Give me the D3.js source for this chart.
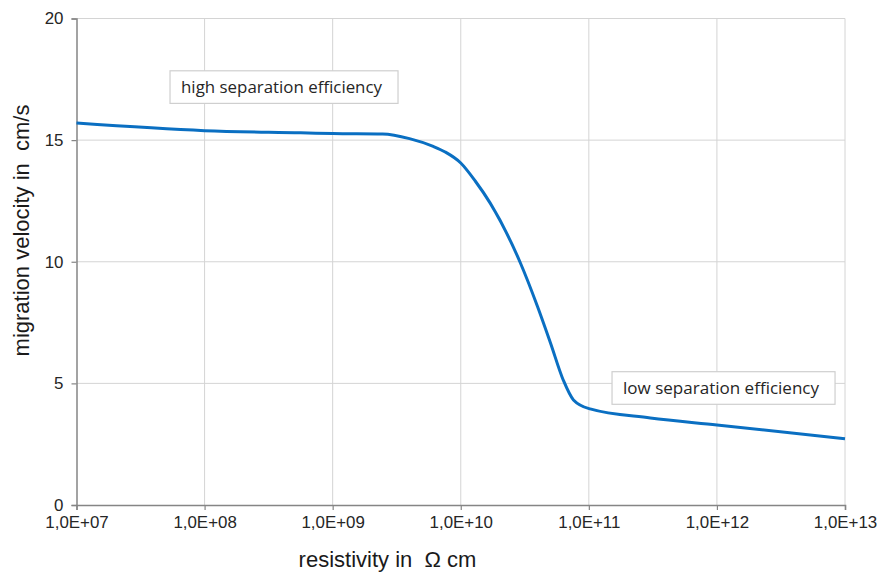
<!DOCTYPE html>
<html>
<head>
<meta charset="utf-8">
<script src="https://cdn.jsdelivr.net/npm/d3@7"></script>
<style>
  body { margin: 0; background: #fff; }
  svg text { font-family: "Liberation Sans", Arial, sans-serif; }
</style>
</head>
<body>
<div id="chart"></div>
<script>
// resistivity (log10 of Ohm cm) and migration velocity (cm/s)
var resistivityExp = [7, 8, 8.75, 9, 9.39, 9.6, 9.785, 9.879, 10.0, 10.113, 10.23, 10.465, 10.6, 10.7, 10.8, 10.88, 11.01, 11.48, 12, 13];
var velocity = [15.7, 15.39, 15.3, 15.27, 15.25, 15.06, 14.74, 14.51, 14.06, 13.32, 12.41, 9.96, 8.15, 6.67, 5.14, 4.32, 3.95, 3.58, 3.29, 2.72];

var xTicks = [1e7, 1e8, 1e9, 1e10, 1e11, 1e12, 1e13];
var xTickLabels = ["1,0E+07", "1,0E+08", "1,0E+09", "1,0E+10", "1,0E+11", "1,0E+12", "1,0E+13"];
var yTicks = [0, 5, 10, 15, 20];

var notes = [
  {text: "high separation efficiency", x: 10 ** 7.816, y: 17.18, len: 201},
  {text: "low separation efficiency", x: 10 ** 11.267, y: 4.81, len: 196}
];

var width = 877, height = 572;
var margin = {top: 18.5, right: 32, bottom: 67, left: 76.5};

var svg = d3.select("#chart").append("svg")
  .attr("width", width)
  .attr("height", height);

var x = d3.scaleLog()
  .domain([1e7, 1e13])
  .range([margin.left, width - margin.right]);

var y = d3.scaleLinear()
  .domain([0, 20])
  .range([height - margin.bottom, margin.top]);

// grid
svg.append("g")
  .selectAll("line")
  .data(xTicks.slice(1))
  .enter().append("line")
  .attr("x1", function(d) { return x(d); })
  .attr("x2", function(d) { return x(d); })
  .attr("y1", y(0))
  .attr("y2", y(20))
  .attr("stroke", "#d4d4d4")
  .attr("stroke-width", 1);

svg.append("g")
  .selectAll("line")
  .data(yTicks.slice(1))
  .enter().append("line")
  .attr("x1", x(1e7))
  .attr("x2", x(1e13))
  .attr("y1", function(d) { return y(d); })
  .attr("y2", function(d) { return y(d); })
  .attr("stroke", "#d4d4d4")
  .attr("stroke-width", 1);

// axes
var xAxis = d3.axisBottom(x)
  .tickValues(xTicks)
  .tickFormat(function(d, i) { return xTickLabels[i]; })
  .tickSize(5)
  .tickPadding(6);

var yAxis = d3.axisLeft(y)
  .tickValues(yTicks)
  .tickSize(5)
  .tickPadding(8);

var gx = svg.append("g")
  .attr("transform", "translate(0," + y(0) + ")")
  .call(xAxis);

var gy = svg.append("g")
  .attr("transform", "translate(" + x(1e7) + ",0)")
  .call(yAxis);

[gx, gy].forEach(function(g) {
  g.select(".domain").attr("stroke", "#858585").attr("stroke-width", 1.5);
  g.selectAll(".tick line").attr("stroke", "#858585").attr("stroke-width", 1.2);
  g.selectAll(".tick text")
    .attr("fill", "#262626")
    .style("font-size", "16.9px")
    .style("font-family", "'Liberation Sans', Arial, sans-serif");
});

// curve
var points = resistivityExp.map(function(e, i) { return [10 ** e, velocity[i]]; });

var line = d3.line()
  .x(function(d) { return x(d[0]); })
  .y(function(d) { return y(d[1]); })
  .curve(d3.curveMonotoneX);

svg.append("path")
  .datum(points)
  .attr("d", line)
  .attr("fill", "none")
  .attr("stroke", "#0a6fc2")
  .attr("stroke-width", 3);

// annotation boxes
notes.forEach(function(n) {
  var g = svg.append("g");
  var bx = x(n.x), by = y(n.y);
  g.append("rect")
    .attr("x", bx - 11)
    .attr("y", by - 16.3)
    .attr("width", n.len + 27)
    .attr("height", 32.6)
    .attr("fill", "#fff")
    .attr("stroke", "#cfcfcf")
    .attr("stroke-width", 1.2);
  g.append("text")
    .attr("x", bx)
    .attr("y", by)
    .attr("dominant-baseline", "central")
    .attr("fill", "#262626")
    .attr("textLength", n.len)
    .attr("lengthAdjust", "spacingAndGlyphs")
    .style("font-family", "'Open Sans', 'Noto Sans', sans-serif")
    .style("font-size", "16px")
    .text(n.text);
});

// axis titles
svg.append("text")
  .attr("x", 387.5)
  .attr("y", 567)
  .attr("text-anchor", "middle")
  .attr("fill", "#1a1a1a")
  .style("font-size", "22px")
  .style("white-space", "pre")
  .text("resistivity in  \u03A9 cm");

svg.append("text")
  .attr("transform", "translate(29,230.5) rotate(-90)")
  .attr("text-anchor", "middle")
  .attr("fill", "#1a1a1a")
  .style("font-size", "22px")
  .style("white-space", "pre")
  .text("migration velocity in  cm/s");
</script>
</body>
</html>
